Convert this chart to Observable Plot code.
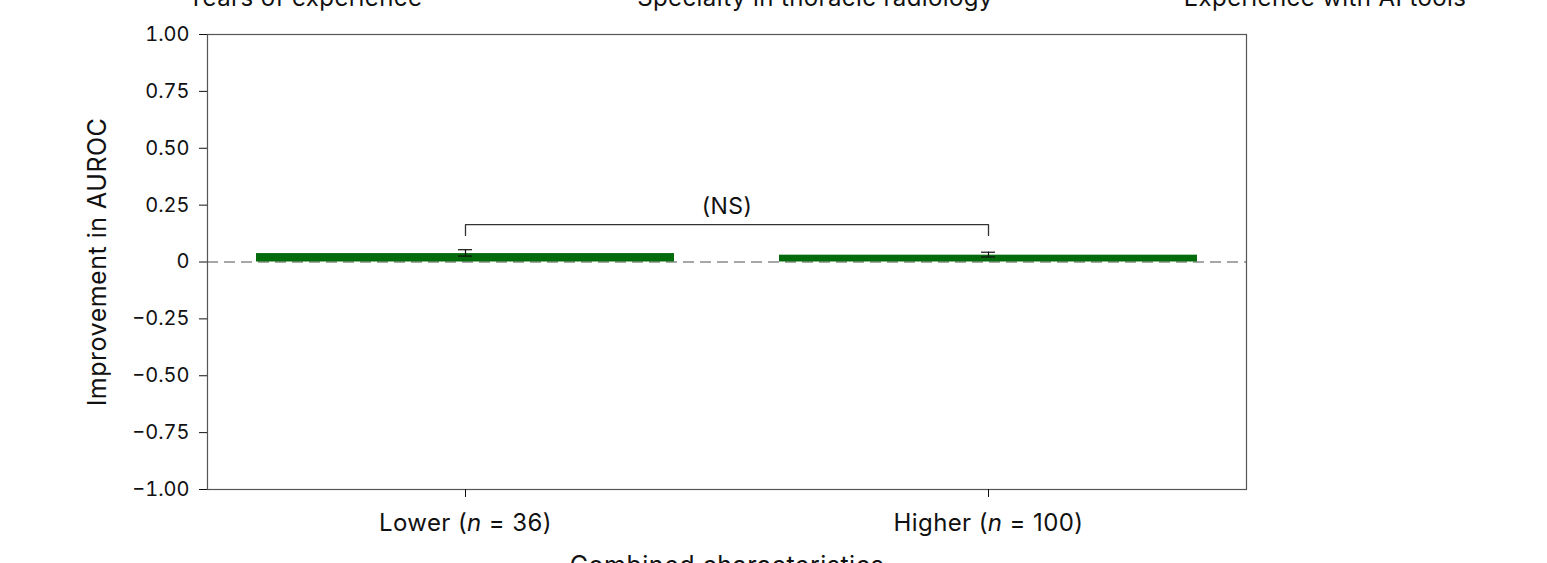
<!DOCTYPE html>
<html>
<head>
<meta charset="utf-8">
<script src="https://cdn.jsdelivr.net/npm/d3@7"></script>
<script src="https://cdn.jsdelivr.net/npm/@observablehq/plot@0.6"></script>
<style>
  html, body { margin: 0; padding: 0; background: #fff; overflow: hidden; }
  #wrap { position: relative; width: 1547px; height: 563px; font-family: Inter, "Noto Sans", sans-serif; }
  .head { position: absolute; top: -14px; font-size: 24px; line-height: 24px; letter-spacing: 0.4px; color: #111; transform: translateX(-50%); white-space: nowrap; }
  svg text { font-family: Inter, "Noto Sans", sans-serif; }
</style>
</head>
<body>
<div id="wrap"></div>
<script>
// Data
const groups = ["Lower", "Higher"];
const groupLabels = ["Lower (n = 36)", "Higher (n = 100)"];
const means = [0.037, 0.030];
const errLow = [0.026, 0.022];
const errHigh = [0.054, 0.043];
const bracketLow = 0.117;
const bracketHigh = 0.164;
const sigLabel = "(NS)";
const sigY = 0.21;
const yTicks = [-1, -0.75, -0.5, -0.25, 0, 0.25, 0.5, 0.75, 1];
const headings = ["Years of experience", "Specialty in thoracic radiology", "Experience with AI tools"];
const headingX = [305, 815, 1325];

const rows = groups.map((g, i) => ({g, mean: means[i], lo: errLow[i], hi: errHigh[i]}));
const bracket = [
  {g: groups[0], y: bracketLow},
  {g: groups[0], y: bracketHigh},
  {g: groups[1], y: bracketHigh},
  {g: groups[1], y: bracketLow}
];
const labelOf = Object.fromEntries(groups.map((g, i) => [g, groupLabels[i]]));
const fmtY = d => d === 0 ? "0" : d3.format(".2f")(d).replace("-", "\u2212");

const plot = Plot.plot({
  width: 1547,
  height: 563,
  marginLeft: 207,
  marginRight: 301,
  marginTop: 34,
  marginBottom: 74,
  style: {fontSize: "20px", color: "#111", background: "#fff"},
  x: {domain: groups, paddingInner: 0.2, paddingOuter: 0.093, label: null},
  y: {domain: [-1, 1], label: null},
  marks: [
    Plot.ruleY([0], {stroke: "#8a8a8a", strokeWidth: 1.6, strokeDasharray: "11,6"}),
    Plot.barY(rows, {x: "g", y: "mean", fill: "#036b0c"}),
    Plot.ruleX(rows, {x: "g", y1: "lo", y2: "hi", stroke: "#111", strokeWidth: 1.2}),
    Plot.tickY(rows, {x: "g", y: "lo", stroke: "#111", strokeWidth: 1.2, insetLeft: 202, insetRight: 202}),
    Plot.tickY(rows, {x: "g", y: "hi", stroke: "#111", strokeWidth: 1.2, insetLeft: 202, insetRight: 202}),
    Plot.line(bracket, {x: "g", y: "y", stroke: "#333", strokeWidth: 1.3}),
    Plot.text([sigLabel], {frameAnchor: "middle", y: [sigY], text: d => d, fontSize: 23, fill: "#111", lineAnchor: "bottom"}),
    Plot.frame({stroke: "#555", strokeWidth: 1.2}),
    Plot.axisY({ticks: yTicks, tickFormat: fmtY, tickSize: 8, tickPadding: 10, fontSize: 20,
      label: "Improvement in AUROC", labelAnchor: "center", labelArrow: "none", labelOffset: 119}),
    Plot.axisX({tickFormat: d => labelOf[d], tickSize: 8, tickPadding: 16, fontSize: 24,
      label: "Combined characteristics", labelAnchor: "center", labelArrow: "none", labelOffset: 84})
  ]
});

const wrap = document.getElementById("wrap");
wrap.appendChild(plot);

// italic n in x tick labels
plot.querySelectorAll('[aria-label="x-axis tick label"] text').forEach(t => {
  const s = t.textContent;
  const m = s.match(/^(.*\()n( = .*)$/);
  if (m) {
    t.textContent = "";
    const a = document.createElementNS("http://www.w3.org/2000/svg", "tspan"); a.textContent = m[1];
    const b = document.createElementNS("http://www.w3.org/2000/svg", "tspan"); b.textContent = "n"; b.setAttribute("font-style", "italic");
    const c = document.createElementNS("http://www.w3.org/2000/svg", "tspan"); c.textContent = m[2];
    t.append(a, b, c);
  }
});
plot.querySelectorAll('[aria-label="x-axis label"] text, [aria-label="y-axis label"] text').forEach(t => {
  t.setAttribute("font-size", "25");
  t.setAttribute("letter-spacing", "0.5");
});
plot.querySelectorAll('[aria-label="x-axis tick label"] text, [aria-label="text"] text').forEach(t => t.setAttribute("letter-spacing", "0.4"));

headings.forEach((h, i) => {
  const d = document.createElement("div");
  d.className = "head";
  d.style.left = headingX[i] + "px";
  d.textContent = h;
  wrap.appendChild(d);
});
</script>
</body>
</html>
